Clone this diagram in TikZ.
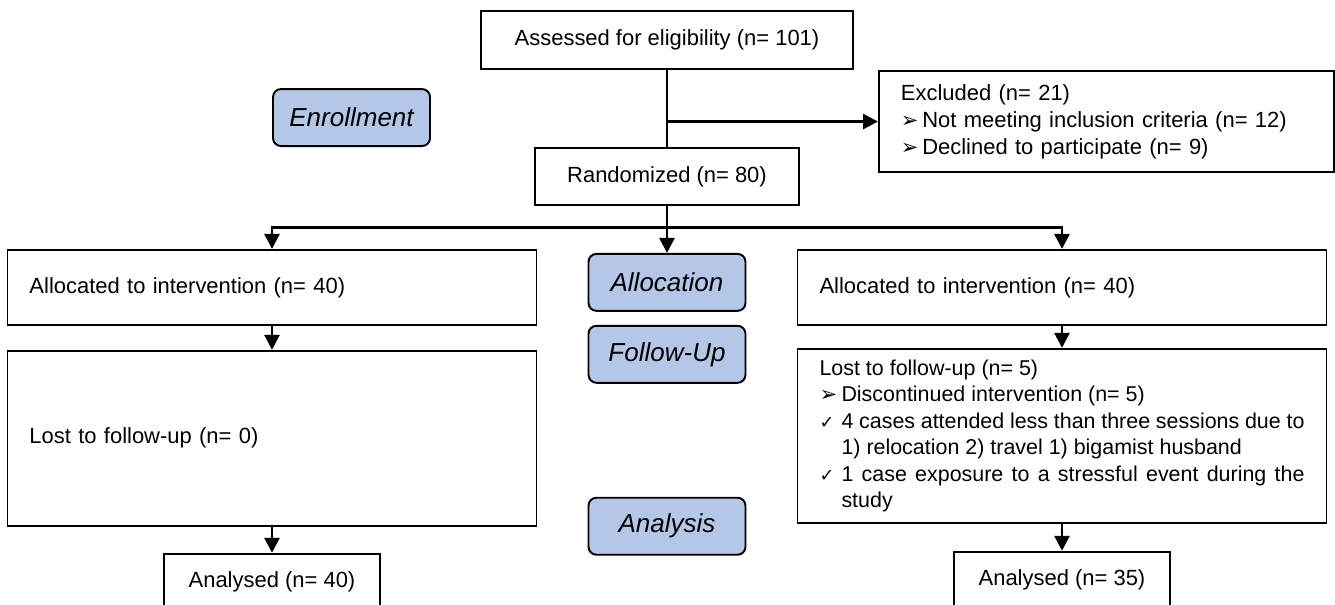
\documentclass[tikz,border=0pt]{standalone}
\usepackage{fontspec}
\setmainfont{Liberation Sans}
\newfontfamily\dingfont{DejaVu Sans}
\usetikzlibrary{arrows.meta,positioning,calc}
\definecolor{fcblue}{HTML}{B4C7E7}
\newcommand{\txtsize}{\fontsize{12.5pt}{15.3pt}\selectfont}
\newcommand{\arrowbul}{{\dingfont\fontsize{12pt}{12pt}\selectfont ➢}}
\newcommand{\tickbul}{{\dingfont\fontsize{10pt}{10pt}\selectfont ✓}}
\newlength{\bulw}
\setlength{\bulw}{0.44cm}
\setlength{\parindent}{0pt}
\tikzset{
  box/.style={rectangle,draw=black,line width=1.1pt,fill=white,
              inner xsep=0.44cm,inner ysep=2pt,font=\txtsize,align=center},
  wide/.style={box,text width=9.7cm,align=left,minimum height=1.5cm},
  phase/.style={rectangle,rounded corners=0.16cm,draw=black,line width=1.1pt,
                fill=fcblue,minimum width=3.14cm,minimum height=1.14cm,
                font=\fontsize{14.8pt}{17pt}\selectfont\itshape},
  flow/.style={-{Triangle[length=0.3cm,width=0.3cm]},line width=1.6pt},
  link/.style={line width=1.6pt},
}
\begin{document}
\begin{tikzpicture}
\useasboundingbox (-13.34,0.8) rectangle (13.36,-11.3);
\node[box,minimum width=7.44cm,minimum height=1.16cm] (assess) at (0,0) {Assessed for eligibility (n= 101)};
\node[box,minimum width=5.28cm,minimum height=1.14cm,below=1.54cm of assess] (rand) {Randomized (n= 80)};
\coordinate (split) at ($(assess.south)!0.67!(rand.north)$);
\node[box,text width=8.22cm,align=left,minimum height=2.02cm,right=4.22cm of split] (excl)
  {Excluded (n= 21)\\\arrowbul\,Not meeting inclusion criteria (n= 12)\\\arrowbul\,Declined to participate (n= 9)};
\node[phase,left=4.72cm of split,yshift=0.08cm] (enrol) {Enrollment};
\coordinate[below=0.44cm of rand] (fork);
\node[phase,below=0.5cm of fork] (allocph) {Allocation};
\node[wide,below=0.42cm of fork,xshift=-7.9cm] (allocL) {Allocated to intervention (n= 40)};
\node[wide,below=0.42cm of fork,xshift=7.9cm] (allocR) {Allocated to intervention (n= 40)};
\node[phase,below=0.26cm of allocph] (followph) {Follow-Up};
\node[wide,minimum height=3.5cm,below=0.48cm of allocL] (lostL) {Lost to follow-up (n= 0)};
\node[wide,align=justify,minimum height=3.48cm,font=\fontsize{12.2pt}{15.1pt}\selectfont,
      below=0.44cm of allocR] (lostR)
  {Lost to follow-up (n= 5)\par
   \makebox[\bulw][l]{\arrowbul}Discontinued intervention (n= 5)\par
   \hangindent=\bulw\hangafter=1
   \makebox[\bulw][l]{\tickbul}4 cases attended less than three sessions due to\linebreak
   1) relocation 2) travel 1) bigamist husband\par
   \hangindent=\bulw\hangafter=1
   \makebox[\bulw][l]{\tickbul}1 case exposure to a stressful event during the\linebreak
   study\par};
\node[phase,below=2.26cm of followph] (anaph) {Analysis};
\node[box,minimum width=4.32cm,minimum height=1.14cm,below=0.52cm of lostL] (anaL) {Analysed (n= 40)};
\node[box,minimum width=4.32cm,minimum height=1.14cm,below=0.54cm of lostR] (anaR) {Analysed (n= 35)};

\draw[link] (assess) -- (rand);
\draw[flow] (split) -- (split -| excl.west);
\draw[flow] (rand) -- (allocph);
\draw[flow] (fork) -| (allocL);
\draw[flow] (fork) -| (allocR);
\draw[flow] (allocL) -- (lostL);
\draw[flow] (allocR) -- (lostR);
\draw[flow] (lostL) -- (anaL);
\draw[flow] (lostR) -- (anaR);
\end{tikzpicture}
\end{document}
